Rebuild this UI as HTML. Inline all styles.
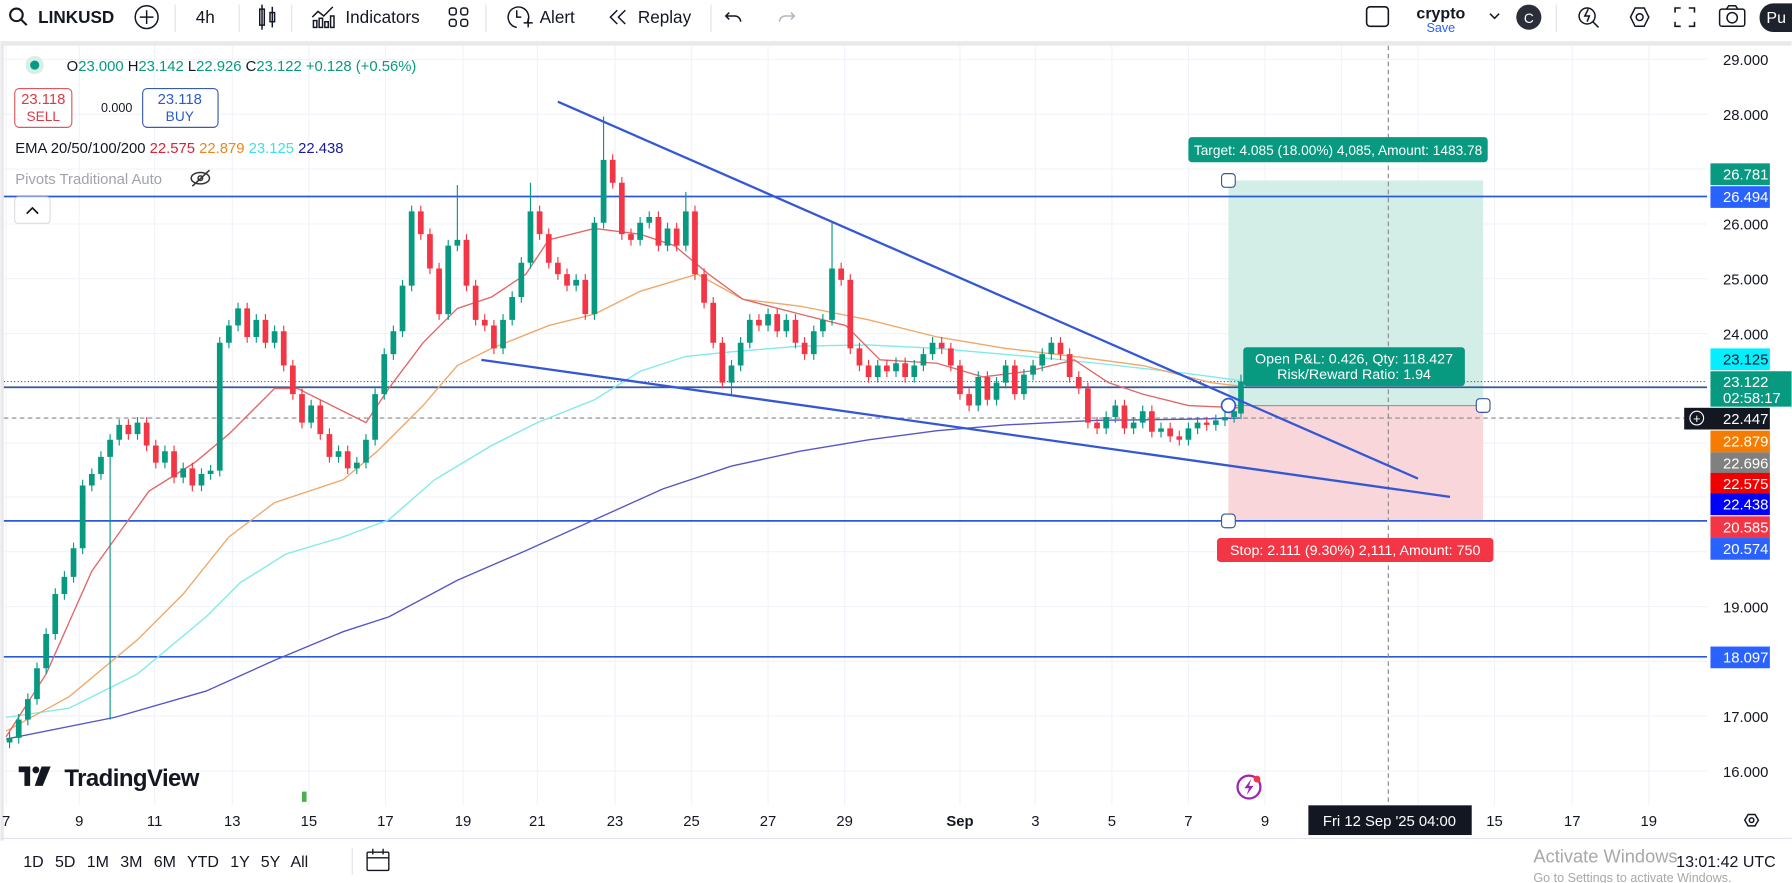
<!DOCTYPE html>
<html><head><meta charset="utf-8"><style>
html,body{margin:0;padding:0;background:#fff;overflow:hidden}
svg{display:block;font-family:"Liberation Sans",sans-serif}
</style></head><body>
<svg width="1792" height="883" viewBox="0 0 1568 773" xmlns="http://www.w3.org/2000/svg">
<rect width="1568" height="773" fill="#fff"/>
<rect x="0" y="36" width="1568" height="4" fill="#e9e9ec"/>
<rect x="0" y="36" width="3" height="700" fill="#e9e9ec"/>
<g stroke="#f0f3fa" stroke-width="1">
<path d="M5 40V705M69 40V705M135 40V705M203 40V705M270 40V705M337 40V705M405 40V705M470 40V705M538 40V705M605 40V705M672 40V705M739 40V705M840 40V705M906 40V705M973 40V705M1040 40V705M1107 40V705M1174 40V705M1241 40V705M1308 40V705M1376 40V705M1443 40V705"/>
<path d="M3 52H1494M3 100H1494M3 148H1494M3 196H1494M3 244H1494M3 292H1494M3 340H1494M3 388H1494M3 435H1494M3 483H1494M3 531H1494M3 579H1494M3 627H1494M3 675H1494"/>
</g>
<rect x="1075" y="158" width="223" height="197" fill="#d3ede7"/>
<rect x="1075" y="355" width="223" height="101" fill="#f9d6d9"/>
<line x1="1075" y1="355" x2="1298" y2="355" stroke="#999" stroke-width="1"/>
<line x1="3" y1="172" x2="1494" y2="172" stroke="#2a5ad8" stroke-width="1.5"/>
<line x1="3" y1="339" x2="1494" y2="339" stroke="#3a5898" stroke-width="1.5"/>
<line x1="3" y1="456" x2="1494" y2="456" stroke="#2a5ad8" stroke-width="1.5"/>
<line x1="3" y1="575" x2="1494" y2="575" stroke="#2a5ad8" stroke-width="1.5"/>
<line x1="3" y1="334" x2="1494" y2="334" stroke="#1f6f6a" stroke-width="1" stroke-dasharray="1,2"/>
<line x1="3" y1="366" x2="1494" y2="366" stroke="#888" stroke-width="1" stroke-dasharray="4,3"/>
<line x1="1215" y1="40" x2="1215" y2="705" stroke="#888" stroke-width="1" stroke-dasharray="4,3"/>
<g fill="none" stroke-width="1.2">
<polyline stroke="#5656c8" points="5,647 100,628 180,605 240,578 300,553 340,540 400,508 460,482 520,455 580,428 640,408 700,395 760,385 820,377 880,372 960,368 1040,367 1085,366"/>
<polyline stroke="#80eaea" points="5,628 60,620 120,590 180,540 210,510 250,485 300,470 340,455 380,420 430,390 470,370 520,350 560,325 600,312 640,308 700,303 760,302 820,305 900,312 960,318 1040,327 1085,333"/>
<polyline stroke="#f0a868" points="5,640 60,610 120,560 160,520 200,470 240,440 300,420 330,395 370,355 400,320 430,305 480,285 520,275 560,255 610,240 650,262 700,268 760,280 820,295 880,305 940,312 1000,320 1060,335 1085,338"/>
<polyline stroke="#e06868" points="5,645 40,590 80,500 130,430 170,405 200,380 240,340 260,340 300,360 320,370 340,340 370,300 400,270 430,260 460,240 480,210 520,200 560,205 590,215 620,240 650,262 700,275 740,285 770,315 820,318 860,330 900,325 940,315 970,335 1000,345 1040,355 1085,357"/>
</g>
<!-- green candles -->
<path stroke="#089981" stroke-width="1" fill="none" d="M8 641V655M16 625V651M24 607V635M32 580V617M40 550V590M48 515V560M56 500V525M64 475V510M72 420V485M80 410V430M88 395V420M96 380V630M104 367V390M120 365V385M144 390V410M160 405V423M176 410V430M184 407V420M192 295V417M200 280V305M208 265V290M224 275V300M240 285V305M272 350V375M296 390V405M312 400V415M320 380V410M328 340V390M336 305V350M344 285V315M352 245V295M360 180V255M392 210V280M400 162V220M440 275V310M448 255V285M456 225V265M464 160V235M504 240V255M520 190V280M528 102V200M560 190V215M568 185V200M584 195V220M600 168V220M640 315V345M648 295V325M656 275V305M672 270V290M688 275V295M712 285V315M720 275V295M728 195V285M768 315V335M784 313V330M800 315V335M808 305V325M816 295V315M856 325V360M872 330V355M880 315V340M896 323V350M904 315V333M912 305V325M920 295V315M968 360V380M976 350V370M992 365V380M1000 355V375M1016 370V383M1040 370V390M1048 365V380M1064 363V377M1072 360V373M1080 355V370M1086 328V367"/>
<path fill="#089981" d="M5.5 646h5V650h-5zM13.5 630h5V646h-5zM21.5 612h5V630h-5zM29.5 585h5V612h-5zM37.5 555h5V585h-5zM45.5 520h5V555h-5zM53.5 505h5V520h-5zM61.5 480h5V505h-5zM69.5 425h5V480h-5zM77.5 415h5V425h-5zM85.5 400h5V415h-5zM93.5 385h5V400h-5zM101.5 372h5V385h-5zM117.5 370h5V380h-5zM141.5 395h5V405h-5zM157.5 410h5V418h-5zM173.5 415h5V425h-5zM181.5 412h5V415h-5zM189.5 300h5V412h-5zM197.5 285h5V300h-5zM205.5 270h5V285h-5zM221.5 280h5V295h-5zM237.5 290h5V300h-5zM269.5 355h5V370h-5zM293.5 395h5V400h-5zM309.5 405h5V410h-5zM317.5 385h5V405h-5zM325.5 345h5V385h-5zM333.5 310h5V345h-5zM341.5 290h5V310h-5zM349.5 250h5V290h-5zM357.5 185h5V250h-5zM389.5 215h5V275h-5zM397.5 210h5V215h-5zM437.5 280h5V305h-5zM445.5 260h5V280h-5zM453.5 230h5V260h-5zM461.5 185h5V230h-5zM501.5 245h5V250h-5zM517.5 195h5V275h-5zM525.5 140h5V195h-5zM557.5 195h5V210h-5zM565.5 190h5V195h-5zM581.5 200h5V215h-5zM597.5 185h5V215h-5zM637.5 320h5V335h-5zM645.5 300h5V320h-5zM653.5 280h5V300h-5zM669.5 275h5V285h-5zM685.5 280h5V290h-5zM709.5 290h5V310h-5zM717.5 280h5V290h-5zM725.5 235h5V280h-5zM765.5 320h5V330h-5zM781.5 318h5V325h-5zM797.5 320h5V330h-5zM805.5 310h5V320h-5zM813.5 300h5V310h-5zM853.5 330h5V355h-5zM869.5 335h5V350h-5zM877.5 320h5V335h-5zM893.5 328h5V345h-5zM901.5 320h5V328h-5zM909.5 310h5V320h-5zM917.5 300h5V310h-5zM965.5 365h5V375h-5zM973.5 355h5V365h-5zM989.5 370h5V375h-5zM997.5 360h5V370h-5zM1013.5 375h5V378h-5zM1037.5 375h5V385h-5zM1045.5 370h5V375h-5zM1061.5 368h5V372h-5zM1069.5 365h5V368h-5zM1077.5 360h5V365h-5zM1083.5 334h5V362h-5z"/>
<!-- red candles -->
<path stroke="#f23645" stroke-width="1" fill="none" d="M112 367V385M128 365V395M136 385V410M152 390V423M168 405V430M216 265V300M232 275V305M248 285V325M256 315V350M264 340V375M280 350V385M288 375V405M304 390V415M368 180V210M376 200V240M384 230V280M408 205V255M416 245V285M424 275V290M432 280V310M472 180V210M480 200V235M488 225V245M496 235V255M512 240V280M536 135V165M544 155V210M552 200V215M576 185V220M592 195V220M608 180V245M616 235V270M624 260V305M632 295V340M664 275V290M680 270V295M696 275V305M704 295V315M736 230V250M744 240V310M752 300V325M760 315V335M776 315V330M792 313V335M824 295V310M832 300V325M840 315V350M848 340V360M864 325V355M888 315V350M928 295V315M936 305V335M944 325V345M952 335V375M960 365V380M984 350V380M1008 355V383M1024 370V387M1032 377V390M1056 365V377"/>
<path fill="#f23645" d="M109.5 372h5V380h-5zM125.5 370h5V390h-5zM133.5 390h5V405h-5zM149.5 395h5V418h-5zM165.5 410h5V425h-5zM213.5 270h5V295h-5zM229.5 280h5V300h-5zM245.5 290h5V320h-5zM253.5 320h5V345h-5zM261.5 345h5V370h-5zM277.5 355h5V380h-5zM285.5 380h5V400h-5zM301.5 395h5V410h-5zM365.5 185h5V205h-5zM373.5 205h5V235h-5zM381.5 235h5V275h-5zM405.5 210h5V250h-5zM413.5 250h5V280h-5zM421.5 280h5V285h-5zM429.5 285h5V305h-5zM469.5 185h5V205h-5zM477.5 205h5V230h-5zM485.5 230h5V240h-5zM493.5 240h5V250h-5zM509.5 245h5V275h-5zM533.5 140h5V160h-5zM541.5 160h5V205h-5zM549.5 205h5V210h-5zM573.5 190h5V215h-5zM589.5 200h5V215h-5zM605.5 185h5V240h-5zM613.5 240h5V265h-5zM621.5 265h5V300h-5zM629.5 300h5V335h-5zM661.5 280h5V285h-5zM677.5 275h5V290h-5zM693.5 280h5V300h-5zM701.5 300h5V310h-5zM733.5 235h5V245h-5zM741.5 245h5V305h-5zM749.5 305h5V320h-5zM757.5 320h5V330h-5zM773.5 320h5V325h-5zM789.5 318h5V330h-5zM821.5 300h5V305h-5zM829.5 305h5V320h-5zM837.5 320h5V345h-5zM845.5 345h5V355h-5zM861.5 330h5V350h-5zM885.5 320h5V345h-5zM925.5 300h5V310h-5zM933.5 310h5V330h-5zM941.5 330h5V340h-5zM949.5 340h5V370h-5zM957.5 370h5V375h-5zM981.5 355h5V375h-5zM1005.5 360h5V378h-5zM1021.5 375h5V382h-5zM1029.5 382h5V385h-5zM1053.5 370h5V372h-5z"/>
<line x1="488" y1="89" x2="1241" y2="419" stroke="#3457d5" stroke-width="2"/>
<line x1="421" y1="315" x2="1269" y2="435" stroke="#3457d5" stroke-width="2"/>
<circle cx="1075" cy="355" r="6" fill="#fff" stroke="#3457d5" stroke-width="1.5"/>
<rect x="1069" y="152" width="12" height="12" rx="3" fill="#fff" stroke="#3a5898"/>
<rect x="1292" y="349" width="12" height="12" rx="3" fill="#fff" stroke="#3a5898"/>
<rect x="1069" y="450" width="12" height="12" rx="3" fill="#fff" stroke="#3a5898"/>
<rect x="1040" y="120" width="262" height="22" rx="3" fill="#089981"/>
<text x="1171" y="135.5" font-size="12" fill="#fff" text-anchor="middle">Target: 4.085 (18.00%) 4,085, Amount: 1483.78</text>
<rect x="1065" y="471" width="242" height="21" rx="3" fill="#f23645"/>
<text x="1186" y="486" font-size="12.5" fill="#fff" text-anchor="middle">Stop: 2.111 (9.30%) 2,111, Amount: 750</text>
<rect x="1088" y="304" width="194" height="34" rx="3" fill="#089981"/>
<text x="1185" y="318" font-size="12.5" fill="#fff" text-anchor="middle">Open P&amp;L: 0.426, Qty: 118.427</text>
<text x="1185" y="332" font-size="12.5" fill="#fff" text-anchor="middle">Risk/Reward Ratio: 1.94</text>
<g font-size="13" fill="#131722">
<text x="1508" y="57">29.000</text><text x="1508" y="105">28.000</text><text x="1508" y="201">26.000</text>
<text x="1508" y="249">25.000</text><text x="1508" y="297">24.000</text><text x="1508" y="536">19.000</text>
<text x="1508" y="632">17.000</text><text x="1508" y="680">16.000</text>
</g>
<g font-size="13" fill="#fff">
<rect x="1497" y="143" width="52" height="19" fill="#089981"/><text x="1508" y="157">26.781</text>
<rect x="1497" y="163" width="52" height="19" fill="#2962ff"/><text x="1508" y="177">26.494</text>
<rect x="1497" y="305" width="52" height="19" fill="#00f0ff"/><text x="1508" y="319" fill="#131722">23.125</text>
<rect x="1497" y="325" width="71" height="31" fill="#089981"/><text x="1508" y="339">23.122</text><text x="1508" y="353">02:58:17</text>
<rect x="1474" y="357" width="75" height="19" fill="#131722"/><text x="1508" y="371">22.447</text>
<circle cx="1485" cy="366" r="6" fill="none" stroke="#fff"/><text x="1485" y="370.5" text-anchor="middle" font-size="11">+</text>
<rect x="1497" y="377" width="52" height="19" fill="#f57c00"/><text x="1508" y="391">22.879</text>
<rect x="1497" y="396" width="52" height="19" fill="#808080"/><text x="1508" y="410">22.696</text>
<rect x="1497" y="414" width="52" height="19" fill="#f00000"/><text x="1508" y="428">22.575</text>
<rect x="1497" y="432" width="52" height="19" fill="#0000ff"/><text x="1508" y="446">22.438</text>
<rect x="1497" y="452" width="52" height="19" fill="#f23645"/><text x="1508" y="466">20.585</text>
<rect x="1497" y="471" width="52" height="19" fill="#2962ff"/><text x="1508" y="485">20.574</text>
<rect x="1497" y="566" width="52" height="19" fill="#2962ff"/><text x="1508" y="580">18.097</text>
</g>
<circle cx="30" cy="57" r="8" fill="#d6efe9"/><circle cx="30" cy="57" r="4" fill="#089981"/>
<text x="58" y="62" font-size="13" fill="#089981"><tspan fill="#131722">O</tspan>23.000 <tspan fill="#131722">H</tspan>23.142 <tspan fill="#131722">L</tspan>22.926 <tspan fill="#131722">C</tspan>23.122 +0.128 (+0.56%)</text>
<rect x="12.5" y="77.5" width="50" height="34" rx="4" fill="#fff" stroke="#e0575f"/>
<text x="37.5" y="91" font-size="13" fill="#d93a46" text-anchor="middle">23.118</text>
<text x="37.5" y="106" font-size="12" fill="#d93a46" text-anchor="middle">SELL</text>
<text x="88" y="98" font-size="11" fill="#131722">0.000</text>
<rect x="124.5" y="77.5" width="66" height="34" rx="4" fill="#fff" stroke="#3a5ba8"/>
<text x="157" y="91" font-size="13" fill="#2c5bcb" text-anchor="middle">23.118</text>
<text x="157" y="106" font-size="12" fill="#2c5bcb" text-anchor="middle">BUY</text>
<text x="13" y="134" font-size="13" fill="#131722">EMA 20/50/100/200 <tspan fill="#d4263a">22.575</tspan> <tspan fill="#e88a20">22.879</tspan> <tspan fill="#3fe0e8">23.125</tspan> <tspan fill="#1a1aa0">22.438</tspan></text>
<text x="13" y="161" font-size="13" fill="#a0a3ab">Pivots Traditional Auto</text>
<g stroke="#333" fill="none" stroke-width="1.3"><ellipse cx="175" cy="156" rx="8" ry="5"/><circle cx="175" cy="156" r="2"/><line x1="168" y1="163" x2="183" y2="149"/></g>
<rect x="12.5" y="172.5" width="31" height="23" rx="3" fill="#fff" stroke="#ddd"/>
<path d="M23 187 L28 182 L33 187" fill="none" stroke="#131722" stroke-width="1.5"/>
<rect x="16" y="671" width="10" height="5" fill="#131722"/><rect x="21" y="671" width="5" height="17" fill="#131722"/><circle cx="31" cy="674" r="3" fill="#131722"/><path d="M36 671 L44 671 L37 688 L30 688 Z" fill="#131722"/>
<text x="56" y="688" font-size="21" font-weight="bold" fill="#131722" letter-spacing="-0.5">TradingView</text>
<rect x="264" y="693" width="4" height="9" fill="#4caf50"/>
<circle cx="1093" cy="689" r="10" fill="#fff" stroke="#9c27b0" stroke-width="2"/>
<path d="M1095 682 L1089 690 L1093 690 L1091 696 L1097 688 L1093 688 Z" fill="#9c27b0"/>
<circle cx="1100" cy="682" r="3" fill="#f23645"/>
<g font-size="13" fill="#131722" text-anchor="middle">
<text x="5" y="723">7</text><text x="69" y="723">9</text><text x="135" y="723">11</text><text x="203" y="723">13</text><text x="270" y="723">15</text><text x="337" y="723">17</text><text x="405" y="723">19</text><text x="470" y="723">21</text><text x="538" y="723">23</text><text x="605" y="723">25</text><text x="672" y="723">27</text><text x="739" y="723">29</text><text x="840" y="723" font-weight="bold">Sep</text><text x="906" y="723">3</text><text x="973" y="723">5</text><text x="1040" y="723">7</text><text x="1107" y="723">9</text><text x="1308" y="723">15</text><text x="1376" y="723">17</text><text x="1443" y="723">19</text>
</g>
<rect x="1145" y="705" width="143" height="26" fill="#131722"/>
<text x="1216" y="723" font-size="13" fill="#fff" text-anchor="middle">Fri 12 Sep '25   04:00</text>
<g stroke="#131722" fill="none" stroke-width="1.3"><path d="M1527 718 l3 -5 h6 l3 5 l-3 5 h-6 z"/><circle cx="1533" cy="718" r="2"/></g>
<line x1="0" y1="734" x2="1568" y2="734" stroke="#e0e3eb"/>
<text x="20" y="759" font-size="14" fill="#131722" word-spacing="6">1D 5D 1M 3M 6M YTD 1Y 5Y All</text>
<line x1="308" y1="742" x2="308" y2="766" stroke="#e0e3eb"/>
<g stroke="#131722" fill="none" stroke-width="1.2"><rect x="321" y="746" width="19" height="16" rx="1"/><line x1="321" y1="751" x2="340" y2="751"/><line x1="326" y1="743" x2="326" y2="748"/><line x1="335" y1="743" x2="335" y2="748"/></g>
<text x="1342" y="755" font-size="16" fill="#a8a8a8">Activate Windows</text>
<text x="1342" y="772" font-size="11" fill="#a8a8a8">Go to Settings to activate Windows.</text>
<text x="1467" y="759" font-size="14" fill="#131722">13:01:42 UTC</text>
<g font-size="15" fill="#131722">
<circle cx="14" cy="13" r="5.5" fill="none" stroke="#131722" stroke-width="1.8"/><line x1="18" y1="17" x2="23" y2="22" stroke="#131722" stroke-width="1.8"/>
<text x="33" y="20" font-weight="bold">LINKUSD</text>
<circle cx="128" cy="15" r="10" fill="none" stroke="#131722" stroke-width="1.3"/><path d="M122 15h12M128 9v12" stroke="#131722" stroke-width="1.3"/>
<line x1="153" y1="4" x2="153" y2="28" stroke="#e0e3eb"/>
<text x="171" y="20">4h</text>
<line x1="209" y1="4" x2="209" y2="28" stroke="#e0e3eb"/>
<g stroke="#131722" fill="none" stroke-width="1.3"><rect x="227" y="8" width="4" height="14"/><line x1="229" y1="4" x2="229" y2="26"/><rect x="236" y="11" width="4" height="8"/><line x1="238" y1="6" x2="238" y2="24"/></g>
<line x1="255" y1="4" x2="255" y2="28" stroke="#e0e3eb"/>
<g stroke="#131722" fill="none" stroke-width="1.3"><path d="M273 15 l5 -5 l5 4 l8 -8"/><rect x="274" y="18" width="3" height="6"/><rect x="279" y="16" width="3" height="8"/><rect x="284" y="19" width="3" height="5"/><rect x="289" y="14" width="3" height="10"/></g>
<text x="302" y="20">Indicators</text>
<g stroke="#131722" fill="none" stroke-width="1.3"><rect x="393" y="7" width="6" height="6" rx="2"/><rect x="403" y="7" width="6" height="6" rx="2"/><rect x="393" y="17" width="6" height="6" rx="2"/><rect x="403" y="17" width="6" height="6" rx="2"/></g>
<line x1="425" y1="4" x2="425" y2="28" stroke="#e0e3eb"/>
<g stroke="#131722" fill="none" stroke-width="1.3"><path d="M461 20 A9 9 0 1 0 452 24"/><path d="M452 9v6h4"/><path d="M458 20h8M462 16v8"/></g>
<text x="472" y="20">Alert</text>
<g stroke="#131722" fill="none" stroke-width="1.3"><path d="M540 9l-6 6l6 6M547 9l-6 6l6 6"/></g>
<text x="558" y="20">Replay</text>
<line x1="622" y1="4" x2="622" y2="28" stroke="#e0e3eb"/>
<path d="M638 11 l-3 3 l3 3 M635 14 h8 a5 5 0 0 1 5 5" stroke="#131722" fill="none" stroke-width="1.3"/>
<path d="M692 11 l3 3 l-3 3 M695 14 h-8 a5 5 0 0 0 -5 5" stroke="#b2b5be" fill="none" stroke-width="1.3"/>
<rect x="1196" y="6" width="19" height="17" rx="3" fill="none" stroke="#131722" stroke-width="1.4"/>
<text x="1261" y="16" font-weight="bold" font-size="14" text-anchor="middle">crypto</text>
<text x="1261" y="28" font-size="11" fill="#2962ff" text-anchor="middle">Save</text>
<path d="M1304 12 l4 4 l4 -4" stroke="#131722" fill="none" stroke-width="1.3"/>
<circle cx="1338" cy="15" r="11" fill="#2a2e39"/><text x="1338" y="20" font-size="12" fill="#fff" text-anchor="middle">C</text>
<line x1="1362" y1="4" x2="1362" y2="28" stroke="#e0e3eb"/>
<g stroke="#131722" fill="none" stroke-width="1.3"><circle cx="1389" cy="14" r="7"/><line x1="1394" y1="19" x2="1399" y2="24"/><path d="M1390 8 l-3 6 h4 l-2 5"/></g>
<g stroke="#131722" fill="none" stroke-width="1.3"><path d="M1427 15 l4 -8 h8 l4 8 l-4 8 h-8 z"/><circle cx="1435" cy="15" r="3"/></g>
<g stroke="#131722" fill="none" stroke-width="1.4"><path d="M1466 11v-4h5M1478 7h5v4M1483 19v4h-5M1471 23h-5v-4"/></g>
<g stroke="#131722" fill="none" stroke-width="1.3"><rect x="1505" y="8" width="22" height="15" rx="2"/><circle cx="1516" cy="15.5" r="4.5"/><path d="M1511 8 l2 -3 h6 l2 3"/></g>
<rect x="1540" y="3" width="40" height="25" rx="12" fill="#1e222d"/><text x="1546" y="20" fill="#fff" font-size="14">Pu</text>
</g>
</svg>
</body></html>
